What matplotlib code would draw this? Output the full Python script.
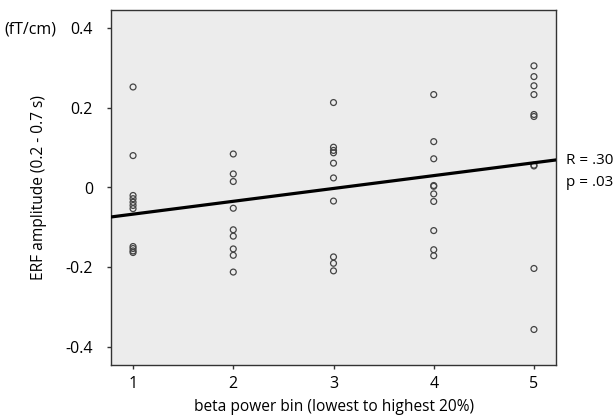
import numpy as np
import matplotlib.pyplot as plt

plt.rcParams['font.family'] = ['Open Sans', 'DejaVu Sans']

# ERF amplitude per beta power bin
bin1 = [0.252, 0.080, -0.020, -0.028, -0.037, -0.045, -0.053,
        -0.148, -0.153, -0.159, -0.163]
bin2 = [0.084, 0.034, 0.015, -0.052, -0.106, -0.122, -0.154, -0.170, -0.212]
bin3 = [0.213, 0.101, 0.093, 0.087, 0.061, 0.024, -0.034,
        -0.174, -0.190, -0.209]
bin4 = [0.233, 0.115, 0.072, 0.005, 0.003, -0.016, -0.035,
        -0.108, -0.156, -0.171]
bin5 = [0.305, 0.278, 0.255, 0.233, 0.183, 0.178, 0.056, 0.054,
        -0.203, -0.356]
bins = [bin1, bin2, bin3, bin4, bin5]

# regression line (intercept, slope)
fit_a = -0.099
fit_b = 0.0322

fig = plt.figure(figsize=(6.16, 4.19), dpi=100)
ax = fig.add_axes([111/616, 1 - 365/419, 445/616, 355/419])
ax.set_facecolor('#ececec')

for i, vals in enumerate(bins):
    xs = np.full(len(vals), i + 1)
    ax.scatter(xs, vals, s=18, facecolors='none', edgecolors='#444444',
               linewidths=0.9, zorder=3)

xl = np.array([0.78, 5.22])
ax.plot(xl, fit_a + fit_b * xl, color='black', lw=2.3, zorder=4)

ax.set_xlim(0.78, 5.22)
ax.set_ylim(-0.445, 0.445)
ax.set_xticks([1, 2, 3, 4, 5])
ax.set_yticks([-0.4, -0.2, 0, 0.2, 0.4])
ax.set_yticklabels(['-0.4', '-0.2', '0', '0.2', '0.4'])
ax.tick_params(direction='out', length=3, width=1, color='#333333',
               labelsize=11.5, pad=5)
ax.tick_params(axis='y', pad=10)
for sp in ax.spines.values():
    sp.set_color('#333333')
    sp.set_linewidth(1)

ax.set_xlabel('beta power bin (lowest to highest 20%)', fontsize=11.2, labelpad=5)
ax.set_ylabel('ERF amplitude (0.2 - 0.7 s)', fontsize=11.2, labelpad=13)

fig.text(4/616, 1 - 29/419, '(fT/cm)', fontsize=11.5, va='center', ha='left')
fig.text(566/616, 1 - 161/419, 'R = .30', fontsize=11, va='center', ha='left')
fig.text(566/616, 1 - 182/419, 'p = .03', fontsize=11, va='center', ha='left')

fig.savefig('out.png', dpi=100)
